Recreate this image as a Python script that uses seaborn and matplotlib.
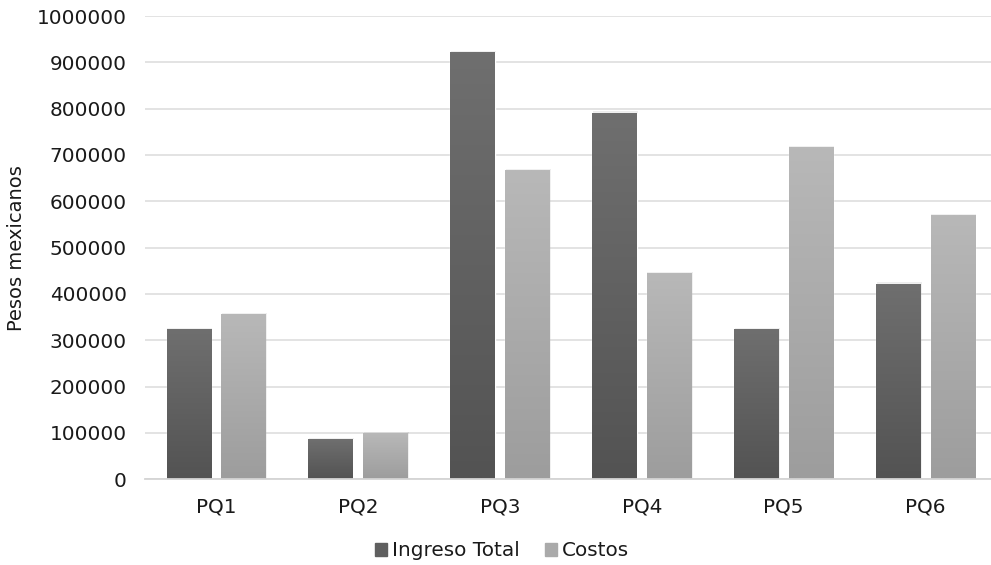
import numpy as np
import pandas as pd
import matplotlib
matplotlib.use("Agg")
import matplotlib.pyplot as plt
import seaborn as sns

# Revenue vs. costs per project (Mexican pesos)
proyectos = ["PQ1", "PQ2", "PQ3", "PQ4", "PQ5", "PQ6"]
ingreso_total = [324000, 86000, 922000, 791000, 324000, 422000]
costos = [357000, 99000, 667000, 445000, 717000, 570000]
series = ["Ingreso Total", "Costos"]
y_ticks = [0, 100000, 200000, 300000, 400000, 500000, 600000, 700000, 800000, 900000, 1000000]

df = pd.DataFrame({
    "Proyecto": proyectos * 2,
    "Serie": [series[0]] * len(proyectos) + [series[1]] * len(proyectos),
    "Pesos": ingreso_total + costos,
})

sns.set_theme(style="white")
plt.rcParams["font.family"] = ["DejaVu Sans"]

fig = plt.figure(figsize=(9.91, 5.65), dpi=100)
ax = fig.add_axes([145 / 991, 1 - 479.3 / 565, 851.5 / 991, (479.3 - 16) / 565])

# gradient endpoints (top, bottom) per series
grad = {series[0]: ("#6f6f6f", "#535353"), series[1]: ("#b8b8b8", "#9d9d9d")}
base = {series[0]: "#5f5f5f", series[1]: "#aaaaaa"}

sns.barplot(data=df, x="Proyecto", y="Pesos", hue="Serie", order=proyectos,
            hue_order=series, palette=base, width=0.77, gap=0.19,
            saturation=1, legend=False, ax=ax, zorder=3)

ax.set_ylim(0, 1000000)
ax.set_xlim(-0.5, len(proyectos) - 0.5)

# vertical shading inside each bar
n = len(proyectos)
for i, patch in enumerate(ax.patches):
    s = series[i // n]
    top_c, bot_c = [np.array(matplotlib.colors.to_rgb(c)) for c in grad[s]]
    t = np.linspace(0, 1, 64)[:, None]
    img = (top_c * (1 - t) + bot_c * t)[:, None, :]
    x0, y0 = patch.get_x(), patch.get_y()
    w, h = patch.get_width(), patch.get_height()
    # soft shadow
    sh = plt.Rectangle((x0 + 0.004, y0), w + 0.006, h + 3000, color="#000000",
                       alpha=0.07, zorder=2, lw=0)
    ax.add_patch(sh)
    im = ax.imshow(img, extent=(x0, x0 + w, y0, y0 + h), aspect="auto",
                   zorder=4, origin="upper", interpolation="bilinear")
    im.set_clip_path(patch)

ax.set_yticks(y_ticks)
ax.set_yticklabels([str(v) for v in y_ticks])
ax.yaxis.grid(True, color="#dedede", linewidth=1.2, zorder=0)
ax.set_axisbelow(True)
for side in ["left", "right", "top"]:
    ax.spines[side].set_visible(False)
ax.spines["bottom"].set_color("#d4d4d4")
ax.spines["bottom"].set_linewidth(1.3)
ax.spines["bottom"].set_zorder(5)

ax.tick_params(axis="y", length=0, pad=13, labelsize=14.4, labelcolor="#1a1a1a")
ax.tick_params(axis="x", length=0, pad=13, labelsize=14.4, labelcolor="#1a1a1a")
ax.set_xlabel("")
ax.set_ylabel("Pesos mexicanos", fontsize=14, color="#1a1a1a", labelpad=8)

handles = [plt.Rectangle((0, 0), 1, 1, color=base[s]) for s in series]
fig.legend(handles, series, loc="center", bbox_to_anchor=(502 / 991, 1 - 551 / 565),
           ncol=2, frameon=False, fontsize=14.4, handlelength=0.6, handleheight=0.6,
           handletextpad=0.25, columnspacing=1.3, labelcolor="#1a1a1a")

fig.savefig("out.png", dpi=100)
